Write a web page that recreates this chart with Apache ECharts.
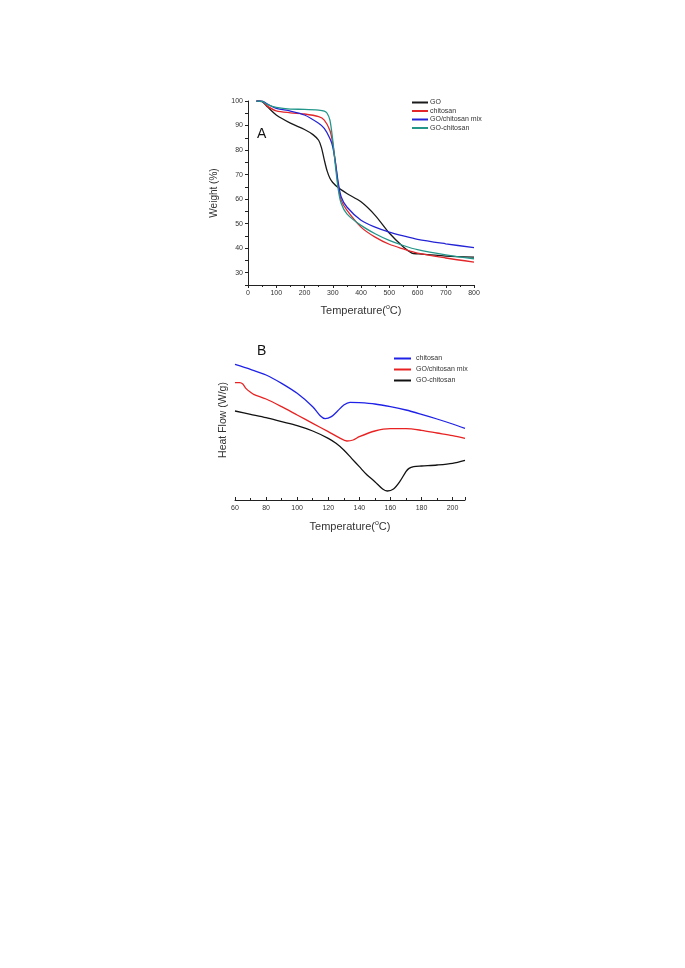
<!DOCTYPE html>
<html>
<head>
<meta charset="utf-8">
<script src="https://cdn.jsdelivr.net/npm/echarts@6/dist/echarts.min.js"></script>
<style>html,body{margin:0;padding:0;background:#fff;}#c{width:685px;height:968px;}</style>
</head>
<body>
<div id="c"></div>
<script>
// ---- Panel A (TGA) ----
const tgaTicksX = [0,100,200,300,400,500,600,700,800];
const tgaGO = [[30,100],[50,99.7],[70,97.5],[100,94.3],[150,91],[200,88.4],[230,86.3],[250,84],[260,81],[270,76],[280,71.5],[290,68.5],[300,66.8],[320,64.6],[350,62.3],[400,58.9],[450,53.4],[500,46.2],[550,40.5],[580,38],[600,37.7],[700,36.8],[800,36.4]];
const tgaChitosan = [[30,100],[50,99.8],[70,97.8],[100,96],[150,95.2],[200,94.7],[250,93.6],[270,92.2],[290,88],[300,82.7],[310,74.5],[320,65],[330,59.5],[350,55.5],[400,48.6],[450,44.5],[500,41.6],[550,39.7],[600,38],[700,36],[800,34.3]];
const tgaMix = [[30,100],[50,99.9],[70,98.6],[100,97],[150,95.9],[200,94.3],[250,90.9],[270,88.8],[290,84.7],[300,81.3],[310,74.5],[320,66.3],[330,60.9],[350,56.8],[400,51.4],[450,48.6],[500,46.6],[550,45],[600,43.6],[700,41.8],[800,40.2]];
const tgaGOchitosan = [[30,100],[50,99.8],[70,98.5],[100,97.4],[150,96.7],[200,96.6],[250,96.3],[270,95.9],[280,95],[290,92.2],[300,84],[310,73],[320,63.6],[330,58.2],[350,54],[400,49.3],[450,45.9],[500,43.2],[550,41.1],[600,39.4],[700,37.3],[800,35.7]];

// ---- Panel B (DSC) ----
const dscChitosan = [[60,4.07],[70,3.92],[80,3.75],[90,3.5],[100,3.2],[110,2.8],[115,2.52],[118,2.44],[122,2.5],[126,2.67],[130,2.85],[134,2.93],[140,2.92],[150,2.88],[160,2.8],[170,2.7],[180,2.57],[190,2.43],[200,2.28],[208,2.15]];
const dscMix = [[60,3.52],[63,3.52],[65,3.48],[67,3.35],[70,3.23],[72,3.17],[80,3.03],[90,2.8],[100,2.55],[110,2.3],[120,2.05],[127,1.87],[132,1.77],[136,1.8],[140,1.9],[150,2.07],[160,2.14],[170,2.14],[180,2.09],[190,2.01],[200,1.93],[208,1.85]];
const dscGOchitosan = [[60,2.67],[70,2.57],[80,2.47],[90,2.35],[100,2.23],[110,2.07],[120,1.85],[125,1.7],[130,1.5],[135,1.25],[140,1.0],[145,0.75],[150,0.55],[155,0.33],[158,0.27],[162,0.33],[166,0.55],[170,0.85],[172,0.95],[175,1.0],[180,1.02],[190,1.05],[200,1.1],[208,1.19]];

const FONT = 'Liberation Sans';
const TXT = '#333';
const chart = echarts.init(document.getElementById('c'));

function line(name, data, color, xi, yi){
  return {name, type:'line', data, xAxisIndex:xi, yAxisIndex:yi, showSymbol:false,
    smooth:0.3, lineStyle:{color, width:1.3}, itemStyle:{color}};
}
const tempName = {
  name: 'Temperature({s|o}C)',
  nameLocation:'middle',
  nameTextStyle:{fontFamily:FONT, fontSize:11, color:TXT, rich:{s:{fontSize:7, verticalAlign:'top', padding:[0,0,6,0], fontFamily:FONT, color:TXT}}}
};

chart.setOption({
  animation:false,
  textStyle:{fontFamily:FONT},
  grid:[
    {left:248, top:101, width:226, height:184},
    {left:235, top:340, width:230, height:160}
  ],
  xAxis:[
    Object.assign({gridIndex:0, type:'value', min:0, max:800, interval:100, nameGap:19,
      axisLine:{lineStyle:{color:'#222', width:1}},
      axisTick:{length:3, lineStyle:{color:'#222'}},
      minorTick:{show:true, splitNumber:2, length:2, lineStyle:{color:'#222'}},
      splitLine:{show:false},
      axisLabel:{fontSize:7, color:TXT, margin:5}}, tempName),
    Object.assign({gridIndex:1, type:'value', min:60, max:208, interval:20, nameGap:20,
      axisLine:{onZero:false, lineStyle:{color:'#222', width:1}},
      minorTick:{show:true, splitNumber:2, length:2, lineStyle:{color:'#222'}},
      splitLine:{show:false},
      axisLabel:{fontSize:7, color:TXT, margin:5,
        customValues:[60,80,100,120,140,160,180,200]},
      axisTick:{inside:true, length:3, lineStyle:{color:'#222'}}}, tempName)
  ],
  yAxis:[
    {gridIndex:0, type:'value', min:25, max:100, interval:5,
      name:'Weight (%)', nameLocation:'middle', nameGap:29,
      nameTextStyle:{fontFamily:FONT, fontSize:10, color:TXT},
      axisLine:{show:true, lineStyle:{color:'#222', width:1}},
      axisTick:{show:true, length:3, lineStyle:{color:'#222'}},
      splitLine:{show:false},
      axisLabel:{fontSize:7, color:TXT, margin:5, formatter:v => (v % 10 === 0 ? String(v) : '')}},
    {gridIndex:1, type:'value', min:0, max:4.8,
      name:'Heat Flow (W/g)', nameLocation:'middle', nameGap:6,
      nameTextStyle:{fontFamily:FONT, fontSize:10.5, color:TXT},
      axisLine:{show:false}, axisTick:{show:false}, axisLabel:{show:false}, splitLine:{show:false}}
  ],
  legend:[
    {orient:'vertical', left:407, top:94, itemWidth:16, itemHeight:2, itemGap:1.5, icon:'rect',
      textStyle:{fontSize:7, color:TXT, padding:[0,0,0,-3]},
      data:['GO','chitosan','GO/chitosan mix','GO-chitosan']},
    {orient:'vertical', left:389, top:350, itemWidth:17, itemHeight:2, itemGap:4, icon:'rect',
      textStyle:{fontSize:7, color:TXT},
      data:['chitosan ','GO/chitosan mix ','GO-chitosan ']}
  ],
  graphic:[
    {type:'text', left:257, top:127, style:{text:'A', fontSize:14, fontFamily:FONT, fill:'#111'}},
    {type:'text', left:257, top:344, style:{text:'B', fontSize:14, fontFamily:FONT, fill:'#111'}}
  ],
  series:[
    line('GO', tgaGO, '#1a1a1a', 0, 0),
    line('chitosan', tgaChitosan, '#e3262a', 0, 0),
    line('GO/chitosan mix', tgaMix, '#2424d6', 0, 0),
    line('GO-chitosan', tgaGOchitosan, '#23968a', 0, 0),
    line('chitosan ', dscChitosan, '#1f22e6', 1, 1),
    line('GO/chitosan mix ', dscMix, '#e82222', 1, 1),
    line('GO-chitosan ', dscGOchitosan, '#111111', 1, 1)
  ]
});
</script>
</body>
</html>
